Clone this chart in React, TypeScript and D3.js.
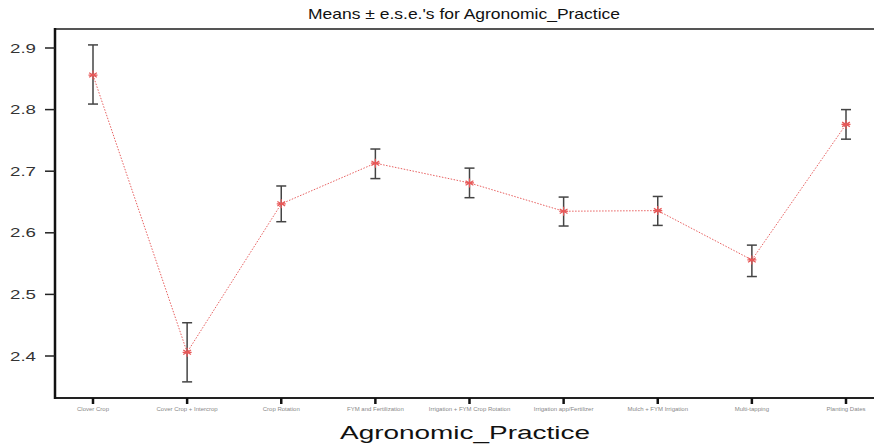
import React from "react";
import * as d3 from "d3";

const categories = [
  "Clover Crop",
  "Cover Crop + Intercrop",
  "Crop Rotation",
  "FYM and Fertilization",
  "Irrigation + FYM Crop Rotation",
  "Irrigation app/Fertilizer",
  "Mulch + FYM Irrigation",
  "Multi-tapping",
  "Planting Dates",
];
const means = [2.856, 2.406, 2.647, 2.713, 2.681, 2.635, 2.636, 2.556, 2.776];
const upper = [2.905, 2.454, 2.676, 2.736, 2.705, 2.658, 2.659, 2.58, 2.8];
const lower = [2.809, 2.358, 2.618, 2.688, 2.657, 2.611, 2.612, 2.529, 2.752];
const yTicks = [2.4, 2.5, 2.6, 2.7, 2.8, 2.9];

const W = 874;
const H = 445;
const left = 55;
const top = 29;
const bottom = 398;

export default function App() {
  const x = d3.scalePoint<string>().domain(categories).range([93, 846]);
  const y = d3.scaleLinear().domain([2.4, 2.9]).range([356, 48]);
  const line = d3
    .line<number>()
    .x((_, i) => x(categories[i])!)
    .y((d) => y(d));
  const font = "Liberation Sans, Arial, sans-serif";
  const star = (cx: number, cy: number, r: number) => {
    const segs: string[] = [];
    for (let k = 0; k < 3; k++) {
      const a = (Math.PI / 3) * k + Math.PI / 2;
      segs.push(
        `M${cx - r * Math.cos(a)},${cy - r * Math.sin(a)}L${cx + r * Math.cos(a)},${cy + r * Math.sin(a)}`
      );
    }
    segs.push(`M${cx - r},${cy}L${cx + r},${cy}`);
    return segs.join("");
  };
  return (
    <svg
      width={W}
      height={H}
      style={{ position: "absolute", left: 0, top: 0, background: "#fff" }}
      fontFamily={font}
    >
      <rect x={0} y={0} width={W} height={H} fill="#fff" />
      <text
        x={308}
        y={19}
        fontSize={15}
        fill="#111"
        textLength={312}
        lengthAdjust="spacingAndGlyphs"
      >
        Means ± e.s.e.'s for Agronomic_Practice
      </text>
      {/* frame */}
      <line x1={left} x2={W} y1={top} y2={top} stroke="#555" strokeWidth={2} />
      <line x1={left} x2={W} y1={bottom} y2={bottom} stroke="#222" strokeWidth={2} />
      <line x1={left} x2={left} y1={top - 1} y2={bottom + 1} stroke="#111" strokeWidth={2.5} />
      {/* y ticks */}
      {yTicks.map((t) => (
        <g key={t}>
          <line x1={left - 10} x2={left} y1={y(t)} y2={y(t)} stroke="#222" strokeWidth={1.5} />
          <text
            x={10}
            y={y(t) + 4.5}
            fontSize={13}
            fill="#333"
            textLength={26}
            lengthAdjust="spacingAndGlyphs"
          >
            {t.toFixed(1)}
          </text>
        </g>
      ))}
      {/* x ticks */}
      {categories.map((c) => (
        <g key={c}>
          <line x1={x(c)!} x2={x(c)!} y1={bottom} y2={bottom + 6} stroke="#111" strokeWidth={2.5} />
          <text x={x(c)!} y={bottom + 13} textAnchor="middle" fontSize={6} fill="#888">
            {c}
          </text>
        </g>
      ))}
      {/* line */}
      <path
        d={line(means) || ""}
        fill="none"
        stroke="#e86060"
        strokeWidth={1}
        strokeDasharray="1.5,1.5"
      />
      {/* error bars */}
      {categories.map((c, i) => {
        const cx = x(c)!;
        return (
          <g key={"e" + c} stroke="#444" strokeWidth={1.5}>
            <line x1={cx} x2={cx} y1={y(upper[i])} y2={y(lower[i])} />
            <line x1={cx - 5} x2={cx + 5} y1={y(upper[i])} y2={y(upper[i])} />
            <line x1={cx - 5} x2={cx + 5} y1={y(lower[i])} y2={y(lower[i])} />
          </g>
        );
      })}
      {categories.map((c, i) => (
        <path
          key={"s" + c}
          d={star(x(c)!, y(means[i]), 4.5)}
          stroke="#e85858"
          strokeWidth={1.2}
          fill="none"
        />
      ))}
      <text
        x={340}
        y={439}
        fontSize={18}
        fill="#111"
        textLength={250}
        lengthAdjust="spacingAndGlyphs"
      >
        Agronomic_Practice
      </text>
    </svg>
  );
}
